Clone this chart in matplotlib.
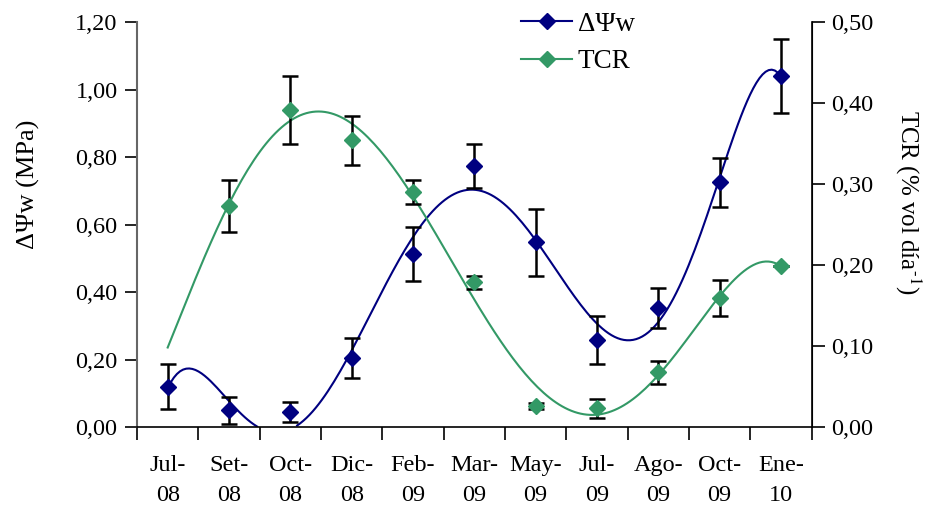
import numpy as np
import matplotlib
matplotlib.use("Agg")
import matplotlib.pyplot as plt
from matplotlib.ticker import FuncFormatter
from matplotlib.lines import Line2D

plt.rcParams['font.family'] = ['Liberation Serif', 'DejaVu Serif']
plt.rcParams['mathtext.fontset'] = 'stix'

# Sampling dates
months = ["Jul-\n08", "Set-\n08", "Oct-\n08", "Dic-\n08", "Feb-\n09", "Mar-\n09",
          "May-\n09", "Jul-\n09", "Ago-\n09", "Oct-\n09", "Ene-\n10"]

# Water potential difference (MPa) and its error
dpsi = [0.12, 0.05, 0.044, 0.204, 0.512, 0.774, 0.547, 0.258, 0.352, 0.725, 1.04]
dpsi_err = [0.068, 0.040, 0.030, 0.060, 0.080, 0.065, 0.100, 0.070, 0.060, 0.072, 0.110]

# TCR (% vol per day) and its error; no measurement in Jul-08
tcr = [np.nan, 0.273, 0.391, 0.354, 0.290, 0.179, 0.026, 0.023, 0.0675, 0.159, 0.199]
tcr_err = [np.nan, 0.032, 0.042, 0.030, 0.015, 0.008, 0.004, 0.012, 0.014, 0.022, 0.0]

BLUE = "#000080"
GREEN = "#339966"
FS = 17.5

fig = plt.figure(figsize=(9.29, 5.13), dpi=100)
ax = fig.add_axes([0.1475, 0.1676, 0.7262, 0.7895])
ax2 = ax.twinx()

x = np.arange(len(months))
dpsi_a = np.array(dpsi)
tcr_a = np.array(tcr)
xs = np.linspace(0, len(months) - 1, 200)

# Polynomial trend lines
p1 = np.polyfit(x, dpsi_a, 6)
y1 = np.polyval(p1, xs)
ax.plot(xs, np.where(y1 >= 0, y1, np.nan), color=BLUE, lw=1.5, zorder=2)

mask = ~np.isnan(tcr_a)
p2 = np.polyfit(x[mask], tcr_a[mask], 5)
ax2.plot(xs, np.polyval(p2, xs), color=GREEN, lw=1.5, zorder=2)

# Measured values with error bars
ax.errorbar(x, dpsi_a, yerr=dpsi_err, fmt='D', color=BLUE, ms=8,
            ecolor='black', elinewidth=1.8, capsize=6, capthick=1.8, zorder=4)
ax2.errorbar(x, tcr_a, yerr=tcr_err, fmt='D', color=GREEN, ms=8,
             ecolor='black', elinewidth=1.8, capsize=6, capthick=1.8, zorder=4)

ax.set_xlim(-0.5, len(months) - 0.5)
ax.set_ylim(0, 1.2)
ax2.set_ylim(0, 0.5)
ax.set_yticks(np.arange(0, 1.21, 0.2))
ax2.set_yticks(np.arange(0, 0.51, 0.1))
comma = FuncFormatter(lambda v, p: f"{v:.2f}".replace('.', ','))
ax.yaxis.set_major_formatter(comma)
ax2.yaxis.set_major_formatter(comma)

ax.set_xticks(np.arange(-0.5, len(months), 1.0))
ax.set_xticklabels([])
ax.set_xticks(x, minor=True)
ax.set_xticklabels(months, minor=True, linespacing=1.6)
ax.tick_params(axis='x', which='minor', length=0, pad=20, labelsize=FS)
ax.tick_params(axis='x', which='major', length=9, width=1.2, direction='out')
ax.tick_params(axis='y', length=9, width=1.2, labelsize=FS, pad=5)
ax2.tick_params(axis='y', length=9, width=1.2, labelsize=FS, pad=5)

for a in (ax, ax2):
    a.spines['top'].set_visible(False)
ax.spines['left'].set_color('#666666')
ax.spines['left'].set_linewidth(1.5)
ax.spines['bottom'].set_linewidth(1.2)
ax2.spines['right'].set_linewidth(1.2)
ax2.spines['left'].set_visible(False)
ax2.spines['bottom'].set_visible(False)

ax.set_ylabel("ΔΨw (MPa)", fontsize=19, labelpad=25)
ax.yaxis.label.set_y(0.60)
ax2.set_ylabel("TCR (% vol día$^{\\mathrm{\u2010}1}$)", fontsize=18, rotation=270, labelpad=36)
ax2.yaxis.label.set_y(0.555)

handles = [Line2D([], [], color=BLUE, marker='D', ms=8, lw=1.5),
           Line2D([], [], color=GREEN, marker='D', ms=8, lw=1.5)]
ax2.legend(handles, ["ΔΨw", "TCR"], loc='upper left', bbox_to_anchor=(0.533, 1.085),
           frameon=False, fontsize=19.5, handlelength=1.9, handletextpad=0.2,
           labelspacing=0.45)

fig.savefig("out.png", dpi=100)
